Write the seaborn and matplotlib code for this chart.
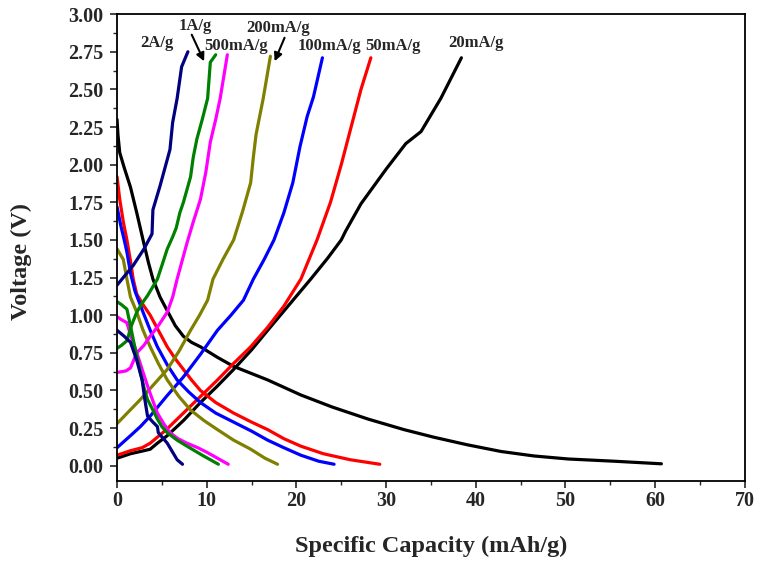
import matplotlib
matplotlib.use("Agg")
import matplotlib.pyplot as plt
from matplotlib.ticker import MultipleLocator
import seaborn as sns
import pandas as pd

# ---- data ----
rates = ["20mA/g", "50mA/g", "100mA/g", "200mA/g", "500mA/g", "1A/g", "2A/g"]
colors = ["#000000", "#FF0000", "#0000FF", "#808000", "#FF00FF", "#008000", "#000080"]

# discharge branches
dis_20_x = [0, 0.1, 0.3, 0.8, 1.5, 2.2, 2.9, 3.5, 4.0, 4.8, 5.6, 6.5, 7.4, 8.3, 9.3, 11.2, 13.0, 16.8, 20.5, 24.0, 28.0, 32.0, 35.3, 39.0, 42.8, 46.5, 50.3, 55.5, 60.7]
dis_20_y = [2.30, 2.20, 2.08, 1.98, 1.85, 1.68, 1.50, 1.35, 1.24, 1.12, 1.03, 0.93, 0.86, 0.82, 0.79, 0.72, 0.66, 0.57, 0.47, 0.39, 0.31, 0.24, 0.19, 0.14, 0.095, 0.065, 0.045, 0.03, 0.013]
dis_50_x = [0, 0.3, 0.7, 1.1, 1.5, 1.8, 2.2, 2.9, 3.7, 4.6, 5.6, 6.5, 7.4, 8.3, 9.3, 11.0, 13.0, 15.0, 16.8, 18.6, 20.5, 23.0, 26.0, 29.3]
dis_50_y = [1.92, 1.77, 1.62, 1.50, 1.36, 1.24, 1.14, 1.07, 1.00, 0.90, 0.79, 0.71, 0.64, 0.57, 0.50, 0.42, 0.35, 0.29, 0.24, 0.18, 0.13, 0.08, 0.04, 0.01]
dis_100_x = [0, 0.4, 0.8, 1.1, 1.5, 2.0, 2.9, 3.7, 4.5, 5.6, 6.7, 8.0, 9.3, 11.0, 13.0, 15.0, 16.8, 18.6, 20.5, 22.5, 24.2]
dis_100_y = [1.72, 1.60, 1.50, 1.42, 1.28, 1.16, 1.02, 0.90, 0.79, 0.67, 0.57, 0.49, 0.42, 0.35, 0.29, 0.23, 0.17, 0.12, 0.07, 0.03, 0.01]
dis_200_x = [0, 0.4, 0.7, 1.1, 1.5, 2.2, 2.9, 3.7, 4.6, 5.6, 6.9, 8.2, 9.7, 11.2, 13.0, 14.9, 16.5, 17.9]
dis_200_y = [1.44, 1.40, 1.37, 1.24, 1.12, 1.02, 0.90, 0.79, 0.68, 0.57, 0.46, 0.37, 0.30, 0.24, 0.17, 0.11, 0.05, 0.01]
dis_500_x = [0, 0.5, 1.1, 1.6, 2.2, 2.8, 3.4, 4.0, 4.5, 5.2, 5.9, 6.8, 7.8, 9.0, 10.0, 11.2, 12.4]
dis_500_y = [0.99, 0.97, 0.95, 0.85, 0.75, 0.64, 0.53, 0.43, 0.35, 0.28, 0.22, 0.18, 0.15, 0.12, 0.09, 0.05, 0.01]
dis_1A_x = [0, 0.5, 1.1, 1.5, 1.8, 2.2, 2.6, 3.0, 3.4, 4.0, 4.5, 5.0, 5.6, 6.7, 7.8, 9.5, 11.3]
dis_1A_y = [1.09, 1.07, 1.04, 0.93, 0.84, 0.73, 0.62, 0.52, 0.44, 0.37, 0.31, 0.26, 0.22, 0.17, 0.13, 0.07, 0.01]
dis_2A_x = [0, 0.8, 1.5, 2.2, 2.8, 3.1, 3.4, 4.0, 4.5, 4.6, 5.6, 6.2, 6.7, 7.3]
dis_2A_y = [0.90, 0.86, 0.82, 0.70, 0.57, 0.44, 0.33, 0.29, 0.26, 0.22, 0.15, 0.09, 0.04, 0.01]

# charge branches
chg_20_x = [0, 1.5, 3.0, 3.7, 4.5, 5.6, 7.4, 9.3, 11.2, 13.0, 15.0, 16.8, 19.2, 21.6, 23.5, 25.0, 25.5, 27.2, 30.0, 32.2, 33.9, 35.0, 36.1, 38.4]
chg_20_y = [0.05, 0.08, 0.10, 0.11, 0.15, 0.20, 0.30, 0.42, 0.53, 0.64, 0.77, 0.90, 1.07, 1.24, 1.38, 1.50, 1.56, 1.74, 1.97, 2.14, 2.22, 2.33, 2.44, 2.71]
chg_50_x = [0, 1.5, 2.8, 3.7, 5.5, 7.4, 9.3, 11.2, 13.0, 14.9, 16.8, 18.6, 20.5, 22.3, 23.8, 25.0, 26.1, 27.2, 28.3]
chg_50_y = [0.07, 0.10, 0.12, 0.15, 0.24, 0.35, 0.46, 0.57, 0.68, 0.79, 0.92, 1.06, 1.24, 1.50, 1.75, 2.00, 2.25, 2.50, 2.71]
chg_100_x = [0, 1.5, 2.6, 3.7, 5.5, 7.4, 9.3, 11.2, 12.7, 14.1, 15.2, 16.4, 17.5, 18.6, 19.6, 20.4, 21.2, 21.9, 22.4, 22.9]
chg_100_y = [0.12, 0.20, 0.26, 0.33, 0.46, 0.59, 0.74, 0.90, 1.00, 1.10, 1.24, 1.37, 1.50, 1.68, 1.88, 2.12, 2.32, 2.45, 2.58, 2.71]
chg_200_x = [0, 1.3, 2.6, 4.1, 5.6, 6.9, 8.2, 9.2, 10.1, 10.7, 11.8, 13.0, 14.0, 14.9, 15.2, 15.5, 16.3, 17.1]
chg_200_y = [0.28, 0.36, 0.44, 0.54, 0.64, 0.76, 0.90, 1.00, 1.10, 1.24, 1.37, 1.50, 1.69, 1.88, 2.05, 2.20, 2.44, 2.72]
chg_500_x = [0, 1.0, 1.5, 2.2, 3.0, 3.7, 4.6, 5.6, 6.2, 6.7, 7.8, 8.5, 9.3, 9.9, 10.4, 11.0, 11.5, 12.3]
chg_500_y = [0.62, 0.63, 0.65, 0.75, 0.80, 0.86, 0.93, 1.02, 1.12, 1.24, 1.48, 1.62, 1.77, 1.95, 2.15, 2.30, 2.44, 2.73]
chg_1A_x = [0, 0.5, 1.1, 1.6, 2.2, 2.8, 3.4, 4.0, 4.5, 5.0, 5.6, 6.2, 6.6, 7.0, 7.4, 8.2, 8.5, 8.9, 9.5, 10.1, 10.2, 10.4, 11.0]
chg_1A_y = [0.78, 0.80, 0.83, 0.93, 1.02, 1.08, 1.13, 1.19, 1.24, 1.33, 1.44, 1.52, 1.58, 1.68, 1.75, 1.92, 2.05, 2.17, 2.30, 2.44, 2.52, 2.68, 2.73]
chg_2A_x = [0, 1.8, 3.0, 3.9, 4.0, 4.8, 5.9, 6.2, 6.7, 7.2, 7.9]
chg_2A_y = [1.20, 1.33, 1.44, 1.54, 1.70, 1.86, 2.10, 2.28, 2.44, 2.65, 2.75]

discharge = [(dis_20_x, dis_20_y), (dis_50_x, dis_50_y), (dis_100_x, dis_100_y), (dis_200_x, dis_200_y),
             (dis_500_x, dis_500_y), (dis_1A_x, dis_1A_y), (dis_2A_x, dis_2A_y)]
charge = [(chg_20_x, chg_20_y), (chg_50_x, chg_50_y), (chg_100_x, chg_100_y), (chg_200_x, chg_200_y),
          (chg_500_x, chg_500_y), (chg_1A_x, chg_1A_y), (chg_2A_x, chg_2A_y)]

# label positions (data coords)
label_x = [40.0, 30.8, 23.7, 18.0, 13.3, 8.7, 4.4]
label_y = [2.81, 2.79, 2.79, 2.91, 2.79, 2.92, 2.81]

# ---- style ----
sns.set_theme(style="ticks")
plt.rcParams["font.family"] = ["Liberation Serif", "DejaVu Serif"]
plt.rcParams["font.weight"] = "bold"

fig = plt.figure(figsize=(7.6, 5.65), dpi=100)
ax = fig.add_axes([0.154, 0.149, 0.826, 0.826])

rows = []
for rate, (dx, dy), (cx, cy) in zip(rates, discharge, charge):
    for x, y in zip(dx, dy):
        rows.append(dict(cap=x, volt=y, rate=rate, branch=rate + "_d"))
    for x, y in zip(cx, cy):
        rows.append(dict(cap=x, volt=y, rate=rate, branch=rate + "_c"))
df = pd.DataFrame(rows)

sns.lineplot(data=df, x="cap", y="volt", hue="rate", units="branch", estimator=None,
             sort=False, palette=dict(zip(rates, colors)), hue_order=rates,
             linewidth=2.3, legend=False, ax=ax)
for ln in ax.get_lines():
    ln.set_solid_joinstyle("round")
    ln.set_solid_capstyle("round")

for rate, lx, ly in zip(rates, label_x, label_y):
    ax.text(lx, ly, rate, ha="center", va="center", fontsize=12, fontweight="bold")

arrowprops = dict(arrowstyle="-|>", color="black", lw=1.5, mutation_scale=12)
ax.annotate("", xy=(9.84, 2.67), xytext=(8.2, 2.88), arrowprops=arrowprops)
ax.annotate("", xy=(17.45, 2.67), xytext=(18.8, 2.86), arrowprops=arrowprops)

ax.set_xlim(0, 70)
ax.set_ylim(-0.1, 3.0)
ax.xaxis.set_major_locator(MultipleLocator(10))
ax.xaxis.set_minor_locator(MultipleLocator(5))
ax.set_yticks([0, 0.25, 0.5, 0.75, 1.0, 1.25, 1.5, 1.75, 2.0, 2.25, 2.5, 2.75, 3.0])
ax.yaxis.set_minor_locator(MultipleLocator(0.125))
ax.set_yticklabels([f"{v:.2f}" for v in ax.get_yticks()])

ax.tick_params(which="major", direction="out", length=5, width=1.2, labelsize=14.5,
               top=False, right=False)
ax.tick_params(axis="y", which="major", pad=5)
ax.tick_params(axis="x", which="major", pad=2.5)
ax.tick_params(which="minor", direction="out", length=3, width=1.0, top=False, right=False)
for lab in ax.get_xticklabels() + ax.get_yticklabels():
    lab.set_fontweight("bold")
for sp in ax.spines.values():
    sp.set_visible(True)
    sp.set_linewidth(1.3)
    sp.set_color("black")

ax.set_xlabel("Specific Capacity (mAh/g)", fontsize=17.5, fontweight="bold")
ax.set_ylabel("Voltage (V)", fontsize=17.5, fontweight="bold")
ax.xaxis.set_label_coords(0.5, -0.118)
ax.yaxis.set_label_coords(-0.135, 0.469)

fig.savefig("out.png", dpi=100)
